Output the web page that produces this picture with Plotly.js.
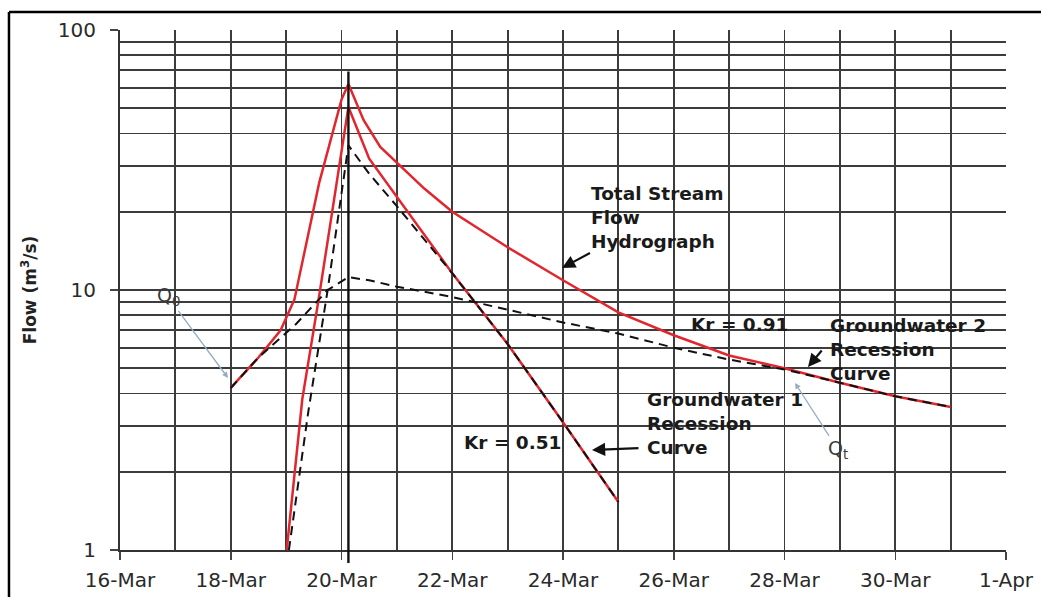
<!DOCTYPE html>
<html>
<head>
<meta charset="utf-8">
<script src="https://cdn.plot.ly/plotly-3.0.1.min.js"></script>
<style>
  html, body { margin: 0; padding: 0; background: #fff; }
  #chart { width: 1041px; height: 597px; }
</style>
</head>
<body>
<div id="chart"></div>
<script>
// Total stream flow hydrograph (m3/s)
const totalDates = ['2008-03-18 00:00', '2008-03-18 12:00', '2008-03-18 21:36', '2008-03-19 03:36',
  '2008-03-19 14:24', '2008-03-20 00:00', '2008-03-20 03:00', '2008-03-20 09:36', '2008-03-20 16:48',
  '2008-03-21 00:00', '2008-03-21 12:00', '2008-03-22 00:00', '2008-03-23 00:00', '2008-03-24 00:00',
  '2008-03-25 00:00', '2008-03-26 00:00', '2008-03-27 00:00', '2008-03-28 00:00', '2008-03-29 00:00',
  '2008-03-30 00:00', '2008-03-31 00:00'];
const totalFlow = [4.2, 5.5, 7.0, 9.2, 26, 54, 62, 45, 35.5, 30.8, 24.5, 20, 14.6, 10.9, 8.2, 6.7, 5.6, 5.0, 4.4, 3.9, 3.55];

// Groundwater 1 recession curve
const gw1Dates = ['2008-03-19 00:15', '2008-03-19 07:00', '2008-03-19 14:00', '2008-03-20 03:00',
  '2008-03-20 12:00', '2008-03-21 00:00', '2008-03-22 00:00', '2008-03-23 00:00', '2008-03-24 00:00',
  '2008-03-25 00:00'];
const gw1Flow = [1.0, 3.8, 9.1, 50.6, 32, 22.8, 11.6, 6.2, 3.1, 1.53];

// Fitted recession line, Kr = 0.51
const kr51Dates = ['2008-03-19 01:12', '2008-03-19 09:36', '2008-03-19 18:00', '2008-03-20 03:00',
  '2008-03-20 12:00', '2008-03-21 00:00', '2008-03-22 00:00', '2008-03-23 00:00', '2008-03-24 00:00',
  '2008-03-25 00:00'];
const kr51Flow = [1.0, 3.4, 10, 36, 28, 21, 11.6, 6.2, 3.1, 1.53];

// Groundwater 2 recession line, Kr = 0.91
const gw2Dates = ['2008-03-18 00:00', '2008-03-18 12:00', '2008-03-19 04:19', '2008-03-19 18:00',
  '2008-03-20 03:00', '2008-03-20 12:00', '2008-03-21 00:00', '2008-03-22 00:00', '2008-03-23 00:00',
  '2008-03-24 00:00', '2008-03-25 00:00', '2008-03-26 00:00', '2008-03-27 00:00', '2008-03-28 00:00',
  '2008-03-29 00:00', '2008-03-30 00:00', '2008-03-31 00:00'];
const gw2Flow = [4.2, 5.5, 7.4, 10.0, 11.2, 10.9, 10.3, 9.4, 8.4, 7.5, 6.8, 6.0, 5.4, 4.95, 4.4, 3.9, 3.55];

// Peak time marker
const peakTime = '2008-03-20 03:00';

// Axis ticks
const yMajor = [1, 10, 100];
const yMajorText = ['1', '10', '100'];
const yMinor = [2, 3, 4, 5, 6, 7, 8, 9, 20, 30, 40, 50, 60, 70, 80, 90];

const RED = 'rgb(226,38,46)';
const GRID = '#3c3c3c';
const FONT = 'DejaVu Sans, Arial, sans-serif';

const traces = [
  { x: gw1Dates, y: gw1Flow, mode: 'lines', line: { color: RED, width: 2.5 }, hoverinfo: 'skip' },
  { x: totalDates, y: totalFlow, mode: 'lines', line: { color: RED, width: 2.5 }, hoverinfo: 'skip' },
  { x: kr51Dates, y: kr51Flow, mode: 'lines', line: { color: '#111', width: 2, dash: '9px,6px' }, hoverinfo: 'skip' },
  { x: gw2Dates, y: gw2Flow, mode: 'lines', line: { color: '#111', width: 2, dash: '9px,6px' }, hoverinfo: 'skip' }
];

const boldFont = { family: FONT, size: 18.5, color: '#1a1a1a', weight: 'bold' };
const qFont = { family: FONT, size: 19, color: '#3a3a3a' };
const qArrow = 'rgb(150,172,192)';

// plain text label at a paper position
function label(x, y, text, font, anchor) {
  return { xref: 'paper', yref: 'paper', x: x, y: y, xanchor: anchor || 'center', yanchor: 'middle',
    align: 'left', showarrow: false, text: text, font: font };
}
// text label with an arrow: (x, y) is the arrow tip, the text sits at a pixel offset from it
function callout(x, y, ax, ay, text, font, color, width, size) {
  return { xref: 'paper', yref: 'paper', x: x, y: y, ax: ax, ay: ay, axref: 'pixel', ayref: 'pixel',
    xanchor: 'center', yanchor: 'middle', align: 'left', text: text, font: font,
    showarrow: true, arrowhead: 2, arrowsize: size, arrowwidth: width, arrowcolor: color };
}
// arrow on its own
function arrow(x, y, ax, ay, color, width, size) {
  return { xref: 'paper', yref: 'paper', x: x, y: y, ax: ax, ay: ay, axref: 'pixel', ayref: 'pixel',
    text: '', showarrow: true, arrowhead: 2, arrowsize: size, arrowwidth: width, arrowcolor: color };
}

const layout = {
  width: 1041,
  height: 597,
  margin: { l: 120, r: 35, t: 30, b: 47 },
  paper_bgcolor: '#fff',
  plot_bgcolor: '#fff',
  showlegend: false,
  font: { family: FONT, color: '#222' },
  xaxis: {
    type: 'date',
    range: ['2008-03-16', '2008-04-01'],
    tick0: '2008-03-16',
    dtick: 2 * 86400000,
    tickformat: '%-d-%b',
    ticks: 'outside',
    ticklen: 8,
    tickwidth: 1.5,
    tickcolor: '#444',
    ticklabelstandoff: 3,
    showgrid: true,
    gridcolor: GRID,
    gridwidth: 1.8,
    showline: true,
    linecolor: '#333',
    linewidth: 2,
    zeroline: false,
    tickfont: { family: FONT, size: 20, color: '#2a2a2a' },
    minor: { dtick: 86400000, showgrid: true, gridcolor: GRID, gridwidth: 1.8, ticks: '' }
  },
  yaxis: {
    type: 'log',
    range: [0, 2],
    tickmode: 'array',
    tickvals: yMajor,
    ticktext: yMajorText,
    ticks: 'outside',
    ticklen: 8,
    tickwidth: 1.5,
    tickcolor: '#444',
    ticklabelstandoff: 10,
    showgrid: true,
    gridcolor: GRID,
    gridwidth: 1.8,
    showline: true,
    linecolor: '#333',
    linewidth: 2,
    zeroline: false,
    tickfont: { family: FONT, size: 20, color: '#2a2a2a' },
    minor: { tickmode: 'array', tickvals: yMinor, showgrid: true, gridcolor: GRID, gridwidth: 1.8, ticks: '' },
    title: { text: 'Flow (m<sup>3</sup>/s)', font: { family: FONT, size: 17, color: '#222', weight: 'bold' }, standoff: 17 }
  },
  shapes: [
    // peak time line
    { type: 'line', xref: 'x', yref: 'paper', x0: peakTime, x1: peakTime, y0: -0.025, y1: 0.92,
      line: { color: '#111', width: 2.4 } },
    // outer frame
    { type: 'line', xref: 'paper', yref: 'paper', x0: -0.1253, x1: -0.1253, y0: -0.2, y1: 1.0346,
      line: { color: '#000', width: 2.5 } },
    { type: 'line', xref: 'paper', yref: 'paper', x0: -0.1253, x1: 1.2, y0: 1.0346, y1: 1.0346,
      line: { color: '#000', width: 2.5 } }
  ],
  annotations: [
    callout(0.4989, 0.5423, 95, -51, 'Total Stream<br>Flow<br>Hydrograph', boldFont, '#111', 2.2, 1.2),
    label(0.6998, 0.4327, 'Kr = 0.91', boldFont),
    label(0.7991, 0.3865, 'Groundwater 2<br>Recession<br>Curve', boldFont, 'left'),
    arrow(0.7765, 0.3519, 15, -18, '#111', 2.2, 1.2),
    label(0.5926, 0.2442, 'Groundwater 1<br>Recession<br>Curve', boldFont, 'left'),
    arrow(0.5327, 0.1923, 48, -2, '#111', 2.2, 1.2),
    label(0.4436, 0.2058, 'Kr = 0.51', boldFont),
    callout(0.1219, 0.3308, -60, -81, 'Q<sub>0</sub>', qFont, qArrow, 1.3, 0.9),
    callout(0.7619, 0.3212, 43, 67, 'Q<sub>t</sub>', qFont, qArrow, 1.3, 0.9)
  ]
};

Plotly.newPlot('chart', traces, layout, { displayModeBar: false, staticPlot: true });
</script>
</body>
</html>
